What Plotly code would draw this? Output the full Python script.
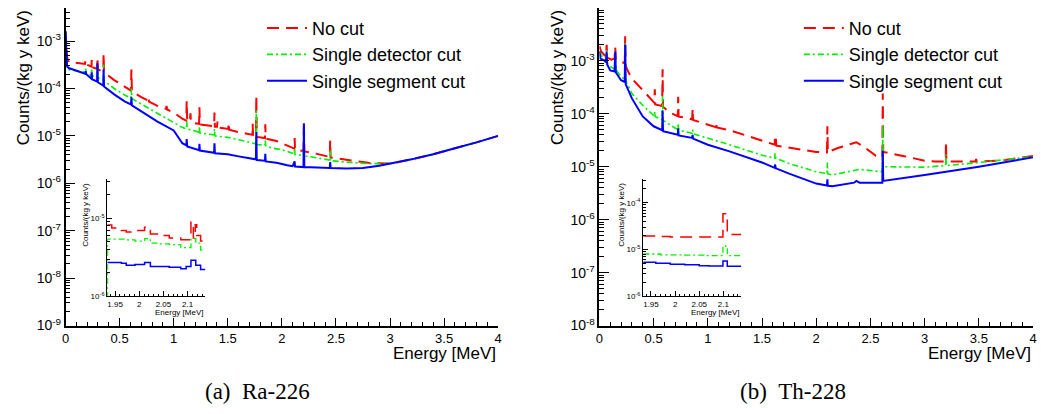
import plotly.graph_objects as go

# ---------------- Ra-226 : main spectrum ----------------
ra_nocut_E = [0.000, 0.008, 0.015, 0.030, 0.080, 0.180, 0.186, 0.192, 0.240, 0.242, 0.246,
              0.292, 0.295, 0.299, 0.349, 0.352, 0.356, 0.450, 0.550, 0.605, 0.609, 0.614,
              0.700, 0.766, 0.768, 0.772, 0.850, 0.930, 0.934, 0.940, 1.000, 1.080, 1.117,
              1.120, 1.125, 1.150, 1.155, 1.160, 1.235, 1.238, 1.242, 1.280, 1.374, 1.377,
              1.381, 1.400, 1.405, 1.410, 1.505, 1.509, 1.513, 1.600, 1.700, 1.729, 1.730,
              1.734, 1.760, 1.764, 1.768, 1.844, 1.847, 1.851, 1.950, 2.050, 2.115, 2.118,
              2.122, 2.200, 2.204, 2.208, 2.300, 2.443, 2.447, 2.451, 2.600, 2.800, 3.000,
              3.200, 3.400, 3.500, 3.600, 3.800, 4.000]
ra_nocut_V = [1.6e-3, 9e-4, 4.5e-4, 3.6e-4, 3.5e-4, 3.3e-4, 4.0e-4, 3.2e-4, 2.9e-4, 4.0e-4, 2.8e-4,
              2.6e-4, 4.5e-4, 2.5e-4, 2.3e-4, 5.5e-4, 2.2e-4, 1.5e-4, 1.05e-4, 9.0e-5, 2.5e-4, 8.6e-5,
              6.6e-5, 5.5e-5, 6.5e-5, 5.3e-5, 4.3e-5, 3.7e-5, 4.3e-5, 3.6e-5, 3.1e-5, 2.3e-5, 2.1e-5,
              5.5e-5, 2.1e-5, 2.0e-5, 3.0e-5, 1.9e-5, 1.8e-5, 4.0e-5, 1.75e-5, 1.7e-5, 1.6e-5, 3.1e-5,
              1.55e-5, 1.55e-5, 2.0e-5, 1.5e-5, 1.4e-5, 1.9e-5, 1.35e-5, 1.2e-5, 1.1e-5, 1.05e-5, 1.8e-5,
              1.0e-5, 1.0e-5, 7.0e-5, 9.5e-6, 9.0e-6, 1.75e-5, 8.8e-6, 7.8e-6, 6.2e-6, 5.4e-6, 9.0e-6,
              5.2e-6, 4.8e-6, 2.1e-5, 4.7e-6, 4.3e-6, 3.6e-6, 8.0e-6, 3.5e-6, 3.1e-6, 2.7e-6, 2.6e-6,
              3.2e-6, 4.1e-6, 4.8e-6, 5.5e-6, 7.3e-6, 1.0e-5]

ra_det_E = [0.000, 0.008, 0.015, 0.030, 0.180, 0.186, 0.192, 0.240, 0.242, 0.246, 0.292, 0.295,
            0.299, 0.349, 0.352, 0.356, 0.450, 0.550, 0.605, 0.609, 0.614, 0.700, 0.850, 1.000,
            1.080, 1.117, 1.120, 1.125, 1.235, 1.238, 1.242, 1.374, 1.377, 1.381, 1.500, 1.600,
            1.700, 1.760, 1.764, 1.768, 1.844, 1.847, 1.851, 1.900, 2.000, 2.100, 2.115, 2.118,
            2.122, 2.200, 2.204, 2.208, 2.443, 2.447, 2.451, 2.600, 2.800, 3.000, 3.200, 3.400,
            3.500, 3.600, 3.800, 4.000]
ra_det_V = [1.5e-3, 8e-4, 3e-4, 2.5e-4, 2.2e-4, 2.6e-4, 2.1e-4, 1.9e-4, 2.5e-4, 1.85e-4, 1.75e-4, 3.0e-4,
            1.7e-4, 1.5e-4, 3.2e-4, 1.45e-4, 1.0e-4, 7.2e-5, 6.3e-5, 1.0e-4, 6.1e-5, 4.7e-5, 3.0e-5, 1.9e-5,
            1.5e-5, 1.4e-5, 2.0e-5, 1.4e-5, 1.2e-5, 1.6e-5, 1.15e-5, 1.05e-5, 1.4e-5, 1.0e-5, 9.3e-6, 8.3e-6,
            7.2e-6, 6.8e-6, 3.4e-5, 6.6e-6, 6.3e-6, 8.0e-6, 6.2e-6, 5.6e-6, 5.1e-6, 4.3e-6, 4.2e-6, 5.5e-6,
            4.0e-6, 3.9e-6, 1.3e-5, 3.8e-6, 3.1e-6, 5.0e-6, 3.0e-6, 2.8e-6, 2.6e-6, 2.6e-6, 3.2e-6, 4.1e-6,
            4.8e-6, 5.5e-6, 7.3e-6, 1.0e-5]

ra_seg_E = [0.000, 0.008, 0.015, 0.030, 0.180, 0.186, 0.192, 0.240, 0.242, 0.246, 0.292, 0.295,
            0.299, 0.349, 0.352, 0.356, 0.450, 0.550, 0.605, 0.609, 0.614, 0.700, 0.850, 1.000,
            1.050, 1.080, 1.117, 1.120, 1.125, 1.200, 1.235, 1.238, 1.242, 1.374, 1.377, 1.381,
            1.500, 1.600, 1.700, 1.760, 1.764, 1.768, 1.844, 1.847, 1.851, 1.950, 2.050, 2.100,
            2.118, 2.122, 2.200, 2.204, 2.208, 2.443, 2.447, 2.451, 2.600, 2.750, 2.900, 3.000,
            3.200, 3.400, 3.500, 3.600, 3.800, 4.000]
ra_seg_V = [1.6e-3, 7e-4, 2.9e-4, 2.7e-4, 2.05e-4, 2.3e-4, 2.0e-4, 1.6e-4, 2.2e-4, 1.55e-4, 1.4e-4, 3.4e-4,
            1.35e-4, 1.15e-4, 2.5e-4, 1.1e-4, 7.5e-5, 5.3e-5, 4.6e-5, 6.5e-5, 4.4e-5, 3.3e-5, 2.0e-5, 1.3e-5,
            9e-6, 7e-6, 6.3e-6, 8.6e-6, 6.0e-6, 5.2e-6, 5.0e-6, 6.8e-6, 4.9e-6, 4.4e-6, 7.0e-6, 4.3e-6,
            4.1e-6, 3.7e-6, 3.4e-6, 3.2e-6, 1.2e-5, 3.1e-6, 3.0e-6, 4.2e-6, 2.9e-6, 2.7e-6, 2.4e-6, 2.3e-6,
            2.9e-6, 2.25e-6, 2.2e-6, 1.8e-5, 2.2e-6, 2.1e-6, 2.8e-6, 2.1e-6, 2.05e-6, 2.1e-6, 2.35e-6, 2.6e-6,
            3.2e-6, 4.1e-6, 4.8e-6, 5.5e-6, 7.3e-6, 1.0e-5]

# ---------------- Ra-226 : inset (zoom around Q_bb) ----------------
ra_in_nocut_E = [1.934, 1.943, 1.963, 1.973, 1.991, 2.011, 2.023, 2.042, 2.062, 2.086, 2.107, 2.112, 2.116, 2.119, 2.127, 2.137]
ra_in_nocut_V = [8.2e-6, 7.5e-6, 7.0e-6, 6.7e-6, 7.0e-6, 7.7e-6, 6.3e-6, 6.0e-6, 5.6e-6, 5.3e-6, 9.0e-6, 5.6e-6, 8.3e-6, 6.0e-6, 5.1e-6, 5.1e-6]
ra_in_det_E = [1.9336, 1.9343, 1.973, 1.991, 2.011, 2.023, 2.042, 2.062, 2.086, 2.107, 2.117, 2.127, 2.137]
ra_in_det_V = [1e-8, 5.4e-6, 5.3e-6, 5.1e-6, 5.5e-6, 4.8e-6, 4.7e-6, 4.6e-6, 4.2e-6, 5.5e-6, 4.8e-6, 3.9e-6, 3.9e-6]
ra_in_seg_E = [1.934, 1.963, 1.973, 1.991, 2.011, 2.023, 2.062, 2.086, 2.097, 2.107, 2.117, 2.127, 2.137]
ra_in_seg_V = [2.7e-6, 2.65e-6, 2.5e-6, 2.55e-6, 2.7e-6, 2.4e-6, 2.35e-6, 2.25e-6, 2.4e-6, 2.9e-6, 2.5e-6, 2.2e-6, 2.2e-6]

# ---------------- Th-228 : main spectrum ----------------
th_nocut_E = [0.000, 0.015, 0.060, 0.067, 0.072, 0.110, 0.140, 0.146, 0.152, 0.200, 0.234, 0.238,
              0.243, 0.270, 0.300, 0.400, 0.470, 0.507, 0.511, 0.515, 0.579, 0.583, 0.587, 0.650,
              0.723, 0.727, 0.731, 0.800, 0.856, 0.860, 0.864, 1.000, 1.075, 1.078, 1.082, 1.200,
              1.500, 1.617, 1.620, 1.628, 1.632, 1.750, 2.000, 2.099, 2.103, 2.107, 2.200, 2.370,
              2.450, 2.550, 2.610, 2.614, 2.618, 2.800, 3.000, 3.100, 3.194, 3.197, 3.201, 3.470,
              3.475, 3.480, 3.700, 4.000]
th_nocut_V = [1.9e-3, 1.5e-3, 1.2e-3, 2.0e-3, 1.15e-3, 1.05e-3, 1.1e-3, 1.8e-3, 1.05e-3, 9.5e-4, 9.0e-4, 2.9e-3,
              8.0e-4, 6.0e-4, 4.6e-4, 2.8e-4, 1.9e-4, 1.6e-4, 2.9e-4, 1.5e-4, 1.4e-4, 6.9e-4, 1.35e-4, 1.05e-4,
              9.0e-5, 2.1e-4, 8.8e-5, 8.4e-5, 7.8e-5, 1.25e-4, 7.6e-5, 6.2e-5, 5.6e-5, 7.0e-5, 5.5e-5, 4.9e-5,
              3.1e-5, 2.6e-5, 3.9e-5, 3.5e-5, 2.5e-5, 2.3e-5, 1.9e-5, 1.85e-5, 5.8e-5, 1.9e-5, 2.25e-5, 2.9e-5,
              2.3e-5, 1.6e-5, 1.5e-5, 2.4e-4, 1.9e-5, 1.6e-5, 1.3e-5, 1.25e-5, 1.25e-5, 2.9e-5, 1.25e-5, 1.25e-5,
              1.4e-5, 1.25e-5, 1.3e-5, 1.6e-5]

th_det_E = [0.000, 0.015, 0.060, 0.067, 0.072, 0.110, 0.140, 0.146, 0.152, 0.200, 0.234, 0.238,
            0.243, 0.300, 0.400, 0.500, 0.507, 0.511, 0.515, 0.579, 0.583, 0.587, 0.723, 0.727,
            0.731, 0.856, 0.860, 0.864, 1.000, 1.200, 1.500, 1.617, 1.620, 1.628, 1.750, 2.000,
            2.099, 2.103, 2.107, 2.150, 2.400, 2.610, 2.614, 2.618, 3.000, 3.194, 3.197, 3.201,
            3.500, 4.000]
th_det_V = [1.5e-3, 1.3e-3, 9.5e-4, 1.6e-3, 9e-4, 7.5e-4, 7.0e-4, 1.5e-3, 6.8e-4, 5.0e-4, 4.5e-4, 2.2e-3,
            4.2e-4, 2.4e-4, 1.45e-4, 9.5e-5, 9e-5, 1.1e-4, 8.8e-5, 7.7e-5, 2.2e-4, 7.5e-5, 5.0e-5, 6.6e-5,
            4.9e-5, 4.3e-5, 5.0e-5, 4.2e-5, 3.5e-5, 2.6e-5, 1.65e-5, 1.45e-5, 1.8e-5, 1.45e-5, 1.15e-5, 8.0e-6,
            7.4e-6, 1.2e-5, 7.3e-6, 7.0e-6, 8.9e-6, 8.0e-6, 6.2e-5, 1.0e-5, 9.8e-6, 1.05e-5, 1.7e-5, 1.05e-5,
            1.2e-5, 1.55e-5]

th_seg_E = [0.000, 0.010, 0.050, 0.060, 0.067, 0.072, 0.100, 0.140, 0.146, 0.152, 0.200, 0.234,
            0.238, 0.243, 0.300, 0.400, 0.500, 0.579, 0.583, 0.587, 0.723, 0.727, 0.731, 0.856,
            0.860, 0.864, 1.000, 1.200, 1.500, 1.617, 1.620, 1.628, 1.750, 2.000, 2.099, 2.103,
            2.107, 2.150, 2.350, 2.370, 2.400, 2.610, 2.614, 2.618, 3.000, 3.500, 4.000]
th_seg_V = [1.5e-3, 1.1e-3, 1.0e-3, 9.3e-4, 1.5e-3, 8.5e-4, 6.6e-4, 6.3e-4, 1.5e-3, 6.0e-4, 4.3e-4, 4.0e-4,
            2.0e-3, 3.6e-4, 1.95e-4, 8.9e-5, 5.8e-5, 4.9e-5, 1.15e-4, 4.7e-5, 4.0e-5, 5.3e-5, 3.9e-5, 3.5e-5,
            4.0e-5, 3.4e-5, 2.6e-5, 1.95e-5, 1.2e-5, 9.5e-6, 1.1e-5, 9.3e-6, 7.4e-6, 4.8e-6, 4.4e-6, 5.8e-6,
            4.35e-6, 4.3e-6, 5.0e-6, 5.4e-6, 5.0e-6, 5.0e-6, 2.0e-5, 5.4e-6, 7.0e-6, 1.0e-5, 1.5e-5]

# ---------------- Th-228 : inset ----------------
th_in_nocut_E = [1.934, 1.960, 1.990, 2.060, 2.099, 2.1045, 2.108, 2.137]
th_in_nocut_V = [1.95e-5, 1.9e-5, 1.85e-5, 1.85e-5, 5.8e-5, 5.0e-5, 2.1e-5, 2.1e-5]
th_in_det_E = [1.934, 1.970, 2.020, 2.060, 2.099, 2.1045, 2.108, 2.137]
th_in_det_V = [8.0e-6, 7.7e-6, 7.6e-6, 7.4e-6, 1.2e-5, 1.1e-5, 7.4e-6, 7.4e-6]
th_in_seg_E = [1.934, 1.960, 1.990, 2.020, 2.050, 2.070, 2.099, 2.108, 2.137]
th_in_seg_V = [5.3e-6, 5.1e-6, 4.8e-6, 4.7e-6, 4.5e-6, 4.4e-6, 5.7e-6, 4.35e-6, 4.35e-6]

series_names = ["No cut", "Single detector cut", "Single segment cut"]
captions = ["(a)\u2002Ra-226", "(b)\u2002Th-228"]
main_decades_ra = [-9, -8, -7, -6, -5, -4, -3]
main_decades_th = [-8, -7, -6, -5, -4, -3, -2]
inset_decades_ra = [-6, -5]
inset_decades_th = [-6, -5, -4]
x_title = "Energy [MeV]"
y_title = "Counts/(kg y keV)"

# ---------------- styling ----------------
W, H = 1041, 414
FONT = "Liberation Sans, Arial, sans-serif"
SERIF = "Liberation Serif, Times New Roman, serif"
colors = ["#ff0000", "#00f000", "#0000ff"]
dashes = ["12px,7px", "6px,3px,2px,3px", "solid"]
widths = [2.0, 1.6, 2.0]
in_widths = [1.5, 1.3, 1.5]


def px_x(p):
    return p / W


def px_y(p):
    return 1 - p / H


fig = go.Figure()

panels = [
    dict(main=[(ra_nocut_E, ra_nocut_V), (ra_det_E, ra_det_V), (ra_seg_E, ra_seg_V)],
         inset=[(ra_in_nocut_E, ra_in_nocut_V), (ra_in_det_E, ra_in_det_V), (ra_in_seg_E, ra_in_seg_V)],
         xa="x", ya="y", xi="x2", yi="y2", legend="legend"),
    dict(main=[(th_nocut_E, th_nocut_V), (th_det_E, th_det_V), (th_seg_E, th_seg_V)],
         inset=[(th_in_nocut_E, th_in_nocut_V), (th_in_det_E, th_in_det_V), (th_in_seg_E, th_in_seg_V)],
         xa="x3", ya="y3", xi="x4", yi="y4", legend="legend2"),
]

for p in panels:
    for i, (E, V) in enumerate(p["main"]):
        fig.add_trace(go.Scatter(x=E, y=V, mode="lines", name=series_names[i],
                                 xaxis=p["xa"], yaxis=p["ya"], legend=p["legend"],
                                 line=dict(color=colors[i], width=widths[i], dash=dashes[i])))
    for i, (E, V) in enumerate(p["inset"]):
        fig.add_trace(go.Scatter(x=E, y=V, mode="lines", name=series_names[i], showlegend=False,
                                 xaxis=p["xi"], yaxis=p["yi"],
                                 line=dict(color=colors[i], width=in_widths[i], dash=dashes[i], shape="hv")))


def log_ticks(decs):
    return dict(tickmode="array", tickvals=[10.0 ** d for d in decs],
                ticktext=["10<sup>%d</sup>" % d for d in decs])


def log_minor(lo, hi, length):
    vals = [m * 10.0 ** d for d in range(lo, hi) for m in range(2, 10)]
    return dict(tickmode="array", tickvals=vals, ticks="inside", ticklen=length,
                tickcolor="black", tickwidth=1, showgrid=False)


axis_common = dict(showline=True, linecolor="black", linewidth=1.5, showgrid=False, zeroline=False,
                   ticks="inside", tickcolor="black", tickwidth=1)

main_y_dom = [px_y(332), px_y(8)]
inset_y_dom = [px_y(302), px_y(183)]

layout_axes = {}
for (xk, yk, xdom, yr, decs) in [("xaxis", "yaxis", [px_x(62), px_x(498)], [-9, -2.3], main_decades_ra),
                                 ("xaxis3", "yaxis3", [px_x(600), px_x(1037)], [-8, -2], main_decades_th)]:
    ya_name = "y" if yk == "yaxis" else "y3"
    xa_name = "x" if xk == "xaxis" else "x3"
    layout_axes[xk] = dict(axis_common, domain=xdom, anchor=ya_name, range=[0, 4], tickmode="linear",
                           tick0=0, dtick=0.5, ticklen=8, ticklabelstandoff=0,
                           tickfont=dict(family=FONT, size=13, color="black"),
                           minor=dict(dtick=0.1, ticks="inside", ticklen=4, tickcolor="black", showgrid=False))
    layout_axes[yk] = dict(axis_common, domain=main_y_dom, anchor=xa_name, type="log", range=yr, ticklen=10,
                           tickfont=dict(family=FONT, size=14, color="black"),
                           minor=log_minor(decs[0], decs[-1] + 1, 5),
                           **log_ticks(decs))

for (xk, yk, xdom, yr, decs) in [("xaxis2", "yaxis2", [px_x(104), px_x(203)], [-6, -4.5], inset_decades_ra),
                                 ("xaxis4", "yaxis4", [px_x(644), px_x(743)], [-6, -3.5], inset_decades_th)]:
    ya_name = "y2" if yk == "yaxis2" else "y4"
    xa_name = "x2" if xk == "xaxis2" else "x4"
    layout_axes[xk] = dict(axis_common, domain=xdom, anchor=ya_name, range=[1.9336, 2.137], tickmode="linear",
                           tick0=1.95, dtick=0.05, ticklen=5, linewidth=1.2, ticklabelstandoff=0,
                           tickfont=dict(family=FONT, size=8, color="black"),
                           minor=dict(dtick=0.01, ticks="inside", ticklen=2.5, tickcolor="black", showgrid=False))
    layout_axes[yk] = dict(axis_common, domain=inset_y_dom, anchor=xa_name, type="log", range=yr, ticklen=5,
                           linewidth=1.2, tickfont=dict(family=FONT, size=8, color="black"),
                           minor=log_minor(decs[0], decs[-1] + 1, 2.5),
                           **log_ticks(decs))

annotations = []
for (xc, xr) in [(19, 498), (558, 1037)]:
    annotations.append(dict(text=y_title, x=px_x(xc), y=px_y(8), xref="paper", yref="paper",
                            xanchor="center", yanchor="top", textangle=-90, showarrow=False,
                            font=dict(family=FONT, size=17, color="black")))
    annotations.append(dict(text=x_title, x=px_x(xr), y=px_y(360), xref="paper", yref="paper",
                            xanchor="right", yanchor="middle", showarrow=False,
                            font=dict(family=FONT, size=17, color="black")))
for (xc, xr) in [(82, 203), (622, 743)]:
    annotations.append(dict(text=y_title, x=px_x(xc), y=px_y(184), xref="paper", yref="paper",
                            xanchor="center", yanchor="top", textangle=-90, showarrow=False,
                            font=dict(family=FONT, size=8, color="black")))
    annotations.append(dict(text=x_title, x=px_x(xr), y=px_y(319), xref="paper", yref="paper",
                            xanchor="right", yanchor="middle", showarrow=False,
                            font=dict(family=FONT, size=8, color="black")))
for cap, xc in zip(captions, [255, 795]):
    annotations.append(dict(text=cap, x=px_x(xc), y=px_y(399), xref="paper", yref="paper",
                            xanchor="center", yanchor="middle", showarrow=False,
                            font=dict(family=SERIF, size=23, color="black")))

legend_common = dict(font=dict(family=FONT, size=18, color="black"), bgcolor="rgba(0,0,0,0)",
                     borderwidth=0, xanchor="left", yanchor="top", itemwidth=40, tracegroupgap=0,
                     itemclick=False, itemdoubleclick=False)

fig.update_layout(
    width=W, height=H, margin=dict(l=0, r=0, t=0, b=0),
    paper_bgcolor="white", plot_bgcolor="rgba(0,0,0,0)",
    showlegend=True,
    legend=dict(legend_common, x=px_x(260), y=px_y(10)),
    legend2=dict(legend_common, x=px_x(801), y=px_y(10)),
    annotations=annotations,
    **layout_axes,
)

fig.write_html("out.html")
